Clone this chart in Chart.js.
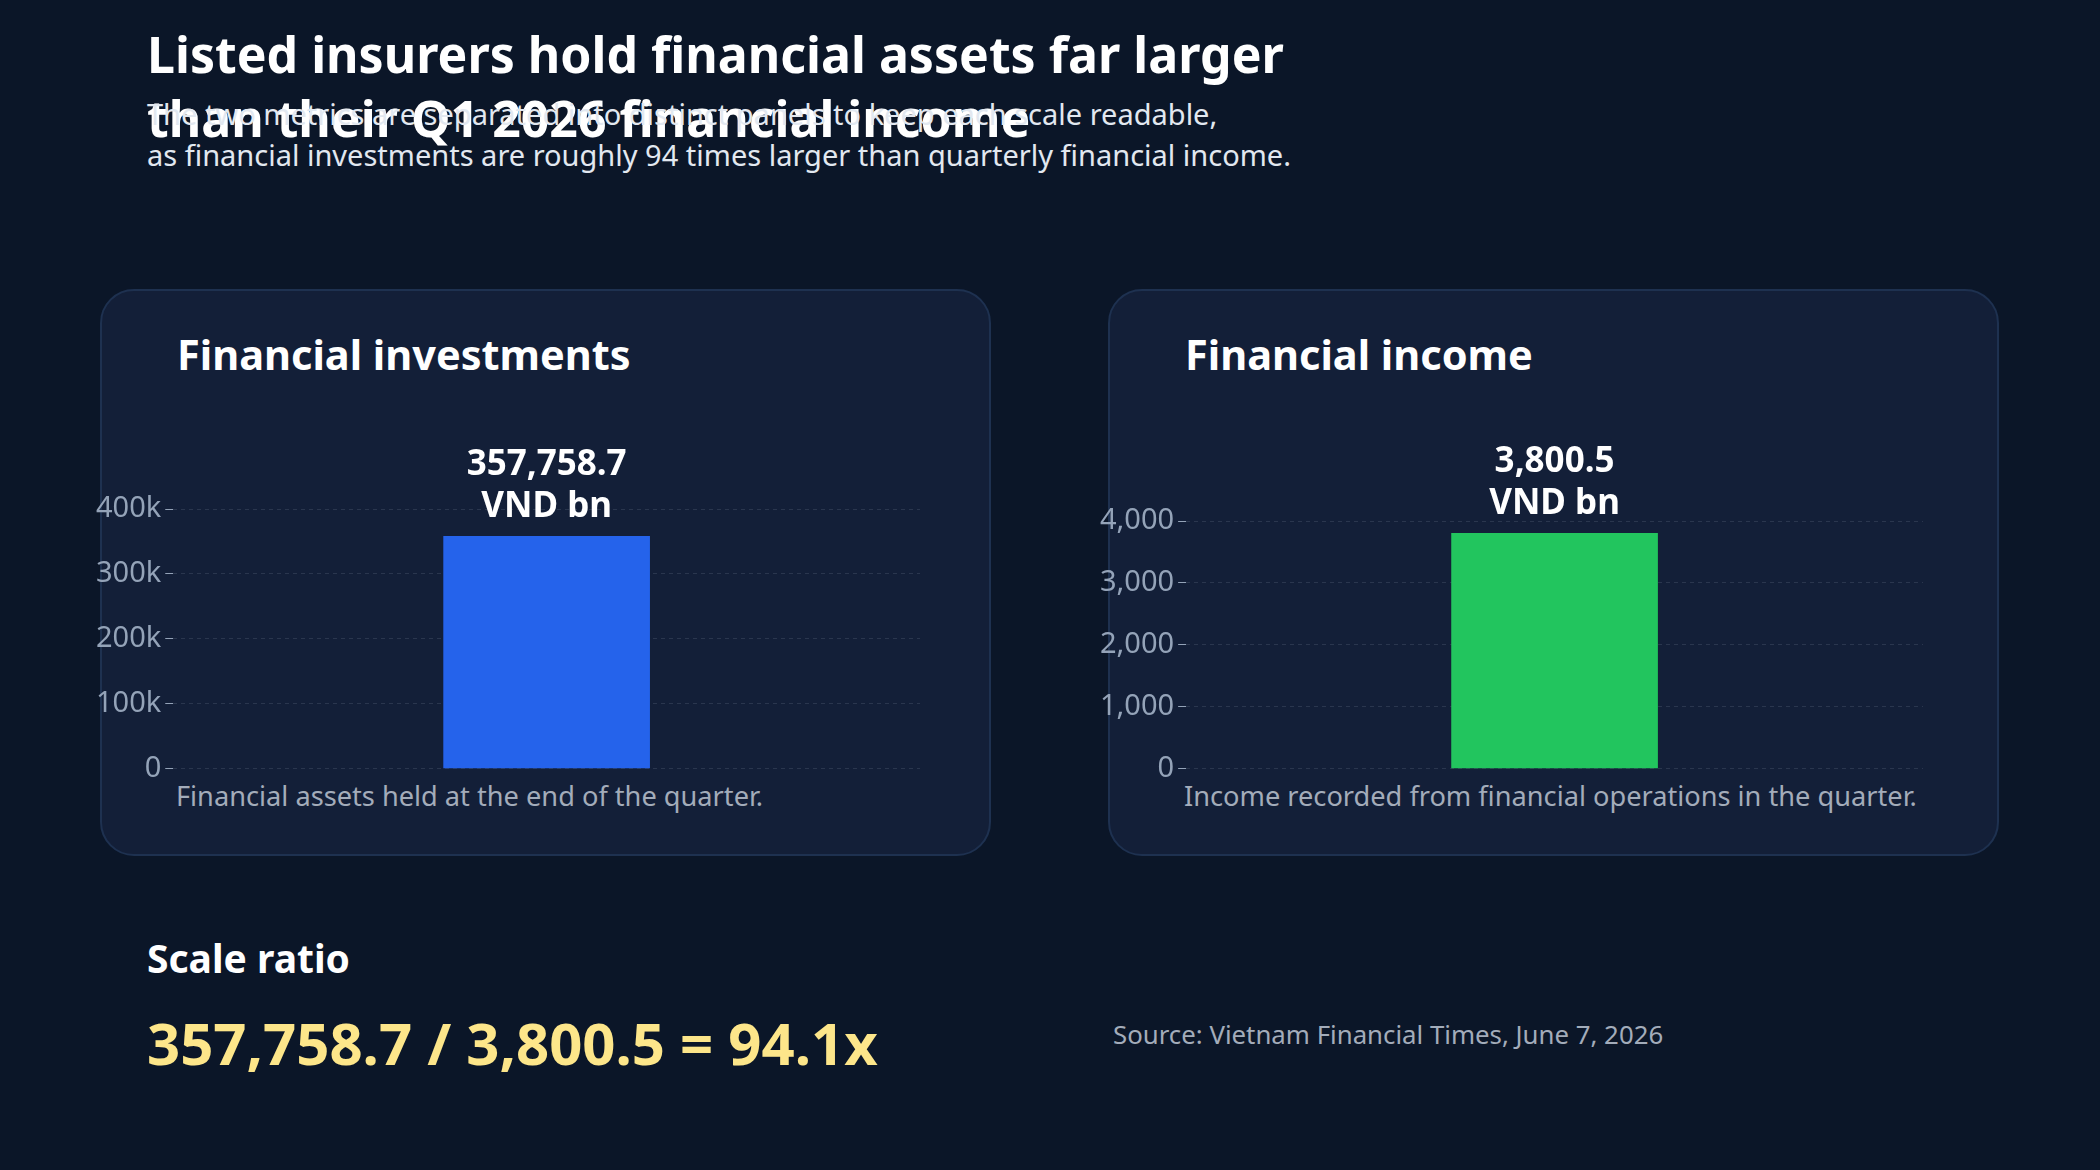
<!DOCTYPE html>
<html><head><meta charset="utf-8">
<script src="https://cdn.jsdelivr.net/npm/chart.js@4"></script>
<style>
body{margin:0;width:2100px;height:1170px;background:#0b1628;font-family:"Noto Sans",sans-serif;position:relative;overflow:hidden;color:#fff}
.a{position:absolute;white-space:nowrap}
.panel{position:absolute;top:289px;width:891px;height:567px;background:#131f38;border:2px solid #1e3150;border-radius:34px;box-sizing:border-box}
canvas{position:absolute}
</style></head><body>
<div class="a" style="left:147px;top:22px;font-size:50px;font-weight:700;line-height:64px">Listed insurers hold financial assets far larger<br>than their Q1 2026 financial income</div>
<div class="a" style="left:147px;top:93px;font-size:29px;line-height:41px;color:#e2e8f0">The two metrics are separated into distinct panels to keep each scale readable,<br>as financial investments are roughly 94 times larger than quarterly financial income.</div>
<div class="panel" style="left:100px"></div>
<div class="panel" style="left:1108px"></div>
<div class="a" style="left:177px;top:326px;font-size:41.5px;font-weight:700">Financial investments</div>
<div class="a" style="left:1185px;top:326px;font-size:41.5px;font-weight:700">Financial income</div>
<div class="a" style="left:176px;top:777px;font-size:27.2px;color:#a3acba">Financial assets held at the end of the quarter.</div>
<div class="a" style="left:1184px;top:777px;font-size:27.2px;color:#a3acba">Income recorded from financial operations in the quarter.</div>
<canvas id="c1" style="left:92px;top:420px;width:868px;height:370px"></canvas>
<canvas id="c2" style="left:1096px;top:420px;width:867px;height:370px"></canvas>
<div class="a" style="left:147px;top:931px;font-size:39px;font-weight:700">Scale ratio</div>
<div class="a" style="left:147px;top:1003px;font-size:58px;font-weight:700;color:#fde68a">357,758.7 / 3,800.5 = 94.1x</div>
<div class="a" style="left:1113px;top:1016px;font-size:25.8px;color:#a3acba">Source: Vietnam Financial Times, June 7, 2026</div>
<script>
const investLabels = ['Financial investments'];
const investValues = [357758.7];
const incomeLabels = ['Financial income'];
const incomeValues = [3800.5];
const unit = 'VND bn';

const valueLabel = {
  id: 'valueLabel',
  afterDatasetsDraw(chart) {
    const ctx = chart.ctx;
    const bar = chart.getDatasetMeta(0).data[0];
    const v = chart.data.datasets[0].data[0];
    ctx.save();
    ctx.fillStyle = '#fff';
    ctx.font = '700 35px "Noto Sans"';
    ctx.textAlign = 'center';
    ctx.textBaseline = 'bottom';
    ctx.fillText(v.toLocaleString('en-US', {minimumFractionDigits: 1}), bar.x, bar.y - 54);
    ctx.fillText(unit, bar.x, bar.y - 12);
    ctx.restore();
  }
};

function makeChart(id, labels, values, color, max, step, fmt, padTop) {
  new Chart(document.getElementById(id), {
    type: 'bar',
    data: { labels: labels, datasets: [{ data: values, backgroundColor: color, barThickness: 206 }] },
    options: {
      responsive: false, animation: false,
      layout: { padding: { top: padTop, right: 40, bottom: 0 } },
      plugins: { legend: { display: false }, tooltip: { enabled: false } },
      scales: {
        x: { display: false },
        y: {
          min: 0, max: max,
          border: { display: false, dash: [4, 4] },
          grid: { color: 'rgba(148,163,184,0.18)', drawTicks: true, tickLength: 8, tickColor: '#94a3b8' },
          ticks: { stepSize: step, color: '#94a3b8', font: { size: 29, family: 'Noto Sans' }, callback: fmt, padding: 4 }
        }
      }
    },
    plugins: [valueLabel]
  });
}
makeChart('c1', investLabels, investValues, '#2563eb', 400000, 100000, v => v === 0 ? '0' : (v / 1000) + 'k', 89);
makeChart('c2', incomeLabels, incomeValues, '#22c55e', 4000, 1000, v => v.toLocaleString('en-US'), 101);
</script>
</body></html>
